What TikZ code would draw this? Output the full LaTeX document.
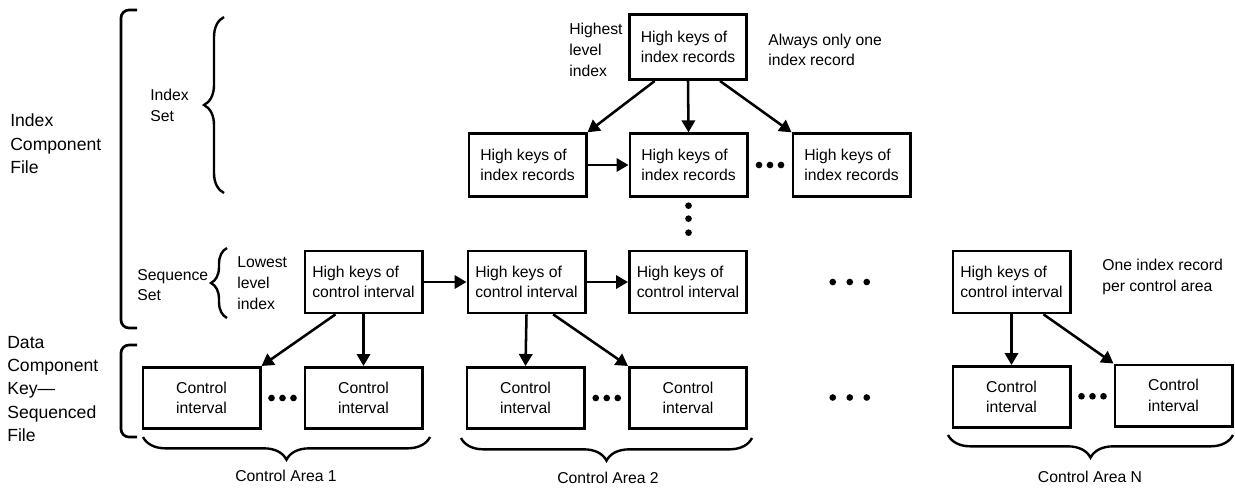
\documentclass[tikz,border=0pt]{standalone}
\usepackage{fontspec}
\setmainfont{Liberation Sans}
\usetikzlibrary{arrows.meta,calc,decorations.pathreplacing}

\tikzset{
  every node/.style={font=\fontsize{11.8}{15.5}\selectfont},
  keybox/.style={draw, line width=2pt, minimum width=88pt, minimum height=47pt, align=left, inner sep=2pt},
  cibox/.style={draw, line width=2pt, minimum width=88pt, minimum height=46pt, align=center},
  note/.style={align=left, inner sep=0pt, anchor=west},
  filenote/.style={note, font=\fontsize{13.2}{17.5}\selectfont},
  link/.style={line width=1.9pt, -{Triangle[length=9pt,width=10pt]}},
  curly/.style={decorate, decoration={brace, amplitude=#1}, line width=1.8pt},
  bracket/.style={line width=2pt, rounded corners=6pt},
}

\begin{document}
\begin{tikzpicture}[x=0.75pt,y=-0.75pt]
\useasboundingbox (0,0) rectangle (1235,487);

% index set
\node[keybox, minimum height=49pt] (top) at (688,47) {High keys of\\index records};
\node[keybox] (idxA) at (527.5,165) {High keys of\\index records};
\node[keybox] (idxB) at (688.5,165) {High keys of\\index records};
\node[keybox] (idxC) at (851.5,165) {High keys of\\index records};

% sequence set
\node[keybox, minimum height=46.5pt] (seqA) at (363.5,282) {High keys of\\control interval};
\node[keybox, minimum height=46.5pt] (seqB) at (526.5,282) {High keys of\\control interval};
\node[keybox, minimum height=46.5pt] (seqC) at (688,282) {High keys of\\control interval};
\node[keybox, minimum height=46.5pt] (seqN) at (1011.5,282) {High keys of\\control interval};

% control intervals
\node[cibox] (ci1) at (201.5,398) {Control\\interval};
\node[cibox] (ci2) at (363.5,398) {Control\\interval};
\node[cibox] (ci3) at (525.5,398) {Control\\interval};
\node[cibox] (ci4) at (688,398) {Control\\interval};
\node[cibox] (ciN1) at (1011.5,397) {Control\\interval};
\node[cibox] (ciN2) at (1173.5,395.5) {Control\\interval};

% notes
\node[note] (highest) at (569,50) {Highest\\level\\index};
\node[note] (always) at (768,50) {Always only one\\index record};
\node[note] (lowest) at (237,283) {Lowest\\level\\index};
\node[note] (oneper) at (1102,277) {One index record\\per control area};
\node[note] (idxset) at (150,105.5) {Index\\Set};
\node[note] (seqset) at (137,285) {Sequence\\Set};
\node[filenote] (idxfile) at (10,144) {Index\\Component\\File};
\node[filenote] (datafile) at (7,389) {Data\\Component\\Key—\\Sequenced\\File};

% links
\draw[link] ([xshift=-25pt]top.south) -- (idxA.north east);
\draw[link] (top.south) -- (idxB.north);
\draw[link] ([xshift=24pt]top.south) -- (idxC.north west);
\draw[link] (idxA) -- (idxB);
\draw[link] (seqA) -- (seqB);
\draw[link] (seqB) -- (seqC);
\draw[link] ([xshift=-21pt]seqA.south) -- (ci1.north east);
\draw[link] (seqA.south) -- (ci2.north);
\draw[link] (seqB.south) -- (ci3.north);
\draw[link] ([xshift=20pt]seqB.south) -- (ci4.north west);
\draw[link] (seqN.south) -- (ciN1.north);
\draw[link] ([xshift=24pt]seqN.south) -- (ciN2.north west);

% dots
\foreach \a/\b in {idxB/idxC, ci1/ci2, ci3/ci4, ciN1/ciN2}
  \foreach \k in {-1,0,1}
    \fill ($(\a.east)!0.5!(\b.west)+(\k*11,0)$) circle (2.5pt);
\foreach \a/\b in {seqC/seqN, ci4/ciN1}
  \foreach \k in {-1,0,1}
    \fill ($(\a.east)!0.5!(\b.west)+(\k*17,0)$) circle (2.5pt);
\foreach \k in {8,21,35}
  \fill ($(idxB.south)+(0,\k)$) circle (2.5pt);

% brackets and braces
\draw[bracket] (137,10) -- (121,10) -- (121,328) -- (137,328);
\draw[bracket] (137,345) -- (121,345) -- (121,437) -- (137,437);
\draw[curly=15pt] (224,193) -- (224,17);
\draw[curly=12pt] (227,318) -- (227,248);
\draw[curly=17pt] (430,437) -- (143,437);
\draw[curly=17pt] (752,438) -- (461,438);
\draw[curly=17pt] (1233,435) -- (948,435);
\node (ca1) at (286,476) {Control Area 1};
\node (ca2) at (608,478) {Control Area 2};
\node (caN) at (1090,477) {Control Area N};
\end{tikzpicture}
\end{document}
